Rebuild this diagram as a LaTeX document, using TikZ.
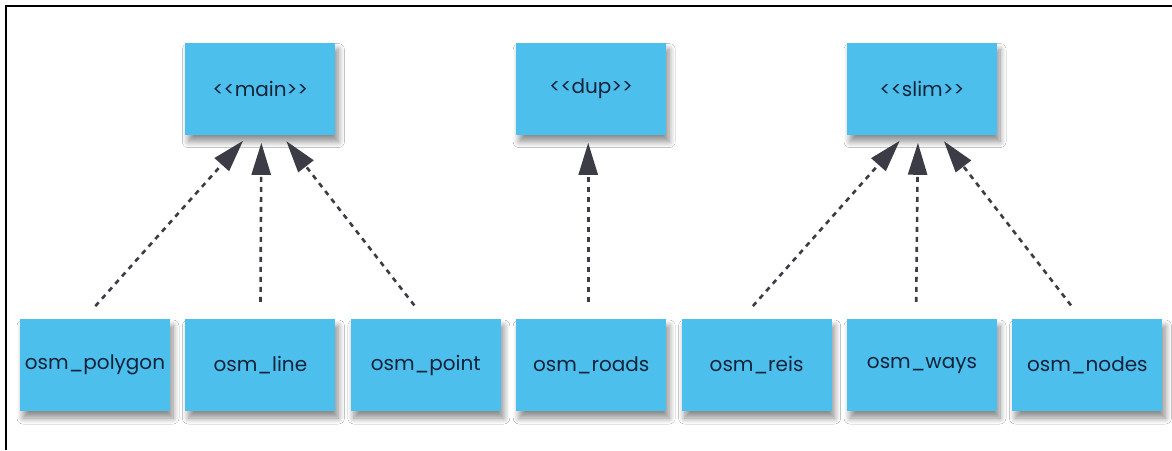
\documentclass[tikz,border=0pt]{standalone}
\usepackage{fontspec}
\setmainfont{Poppins}
\usepackage{xcolor}
\usetikzlibrary{positioning, arrows.meta, shadows.blur}

\definecolor{boxblue}{HTML}{4DBFEC}
\definecolor{labelnavy}{HTML}{10233A}
\definecolor{arrowgray}{HTML}{3C3C46}

\tikzset{
  table/.style={rectangle, fill=boxblue, minimum width=150pt, minimum height=92pt,
    inner sep=0pt, text=labelnavy, font=\fontsize{20}{24}\selectfont,
    blur shadow={shadow xshift=3pt, shadow yshift=-7pt, shadow blur steps=10, shadow blur radius=6pt, shadow opacity=45}},
  dep/.style={draw=arrowgray, line width=2.6pt, dash pattern=on 5pt off 5pt,
    -{Triangle[length=32pt, width=19pt]}, shorten <=17pt, shorten >=8pt}
}

\begin{document}
\begin{tikzpicture}[x=1pt, y=-1pt]
    % page and frame
    \fill[white] (0,0) rectangle (1172,450);
    \useasboundingbox (0,0) rectangle (1172,450);
    \draw[line width=2pt] (6,450) -- (6,6) -- (1172,6);

    % tables
    \node[table] (polygon) at (95,365) {osm\_polygon};
    \node[table, right=15pt of polygon] (line) {osm\_line};
    \node[table, right=15pt of line] (point) {osm\_point};
    \node[table, right=15pt of point] (roads) {osm\_roads};
    \node[table, right=15pt of roads] (reis) {osm\_reis};
    \node[table, right=15pt of reis] (ways) {osm\_ways};
    \node[table, right=15pt of ways] (nodes) {osm\_nodes};

    % schemas
    \node[table, above=184pt of line] (main) {<{}<main>{}>};
    \node[table, above=184pt of roads] (dup) {<{}<dup>{}>};
    \node[table, above=184pt of ways] (slim) {<{}<slim>{}>};

    % dependencies
    \draw[dep] ([xshift=-11pt]polygon.north) -- ([xshift=-12pt]main.south);
    \draw[dep] (line.north) -- ([xshift=1pt]main.south);
    \draw[dep] ([xshift=-1pt]point.north) -- ([xshift=21pt]main.south);
    \draw[dep] ([xshift=-3pt]roads.north) -- ([xshift=-3pt]dup.south);
    \draw[dep] ([xshift=-15pt]reis.north) -- ([xshift=-17pt]slim.south);
    \draw[dep] ([xshift=-6pt]ways.north) -- ([xshift=-4pt]slim.south);
    \draw[dep] ([xshift=-6pt]nodes.north) -- ([xshift=17pt]slim.south);
\end{tikzpicture}
\end{document}
